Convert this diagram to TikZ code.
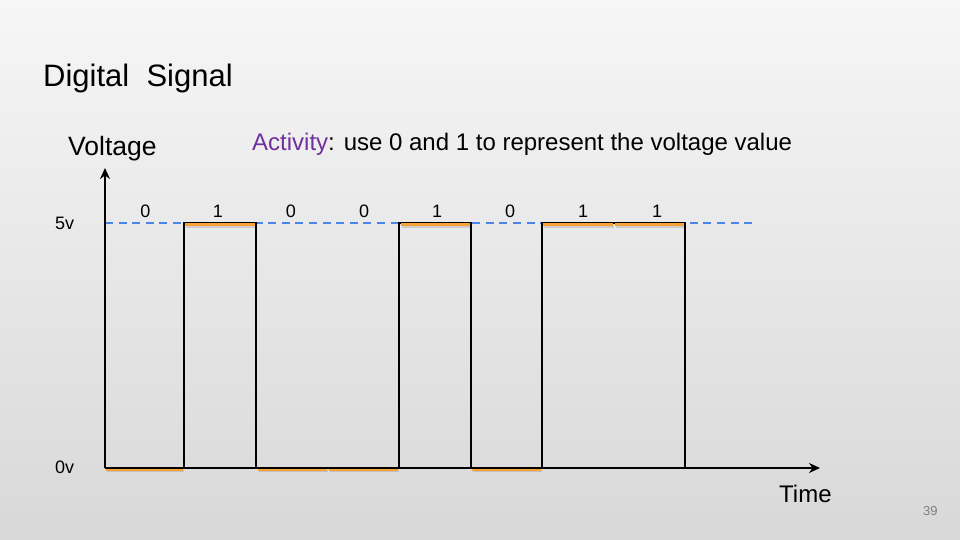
\documentclass[tikz,border=0pt]{standalone}
\usepackage{fontspec}
\setmainfont{Liberation Sans}
\usetikzlibrary{arrows.meta}
\definecolor{bgtop}{RGB}{246,246,246}
\definecolor{bgbot}{RGB}{216,216,216}
\definecolor{orng}{RGB}{248,162,56}
\definecolor{dblue}{RGB}{74,134,232}
\definecolor{purp}{RGB}{112,48,160}
\definecolor{pgnum}{RGB}{128,128,128}
\newcommand\setfs[1]{\fontsize{#1}{#1}\selectfont}
\begin{document}
\begin{tikzpicture}[x=1pt,y=-1pt,
  txt/.style={inner sep=0pt,anchor=base west},
  bitlab/.style={inner sep=0pt,anchor=base,font=\setfs{18}},
  sig/.style={line width=1.8pt,black,line join=miter},
  axis/.style={line width=1.8pt,black,-{Stealth[length=11pt,width=10pt]}},
  level/.style={line width=2pt,dblue,dash pattern=on 8pt off 5.6pt},
  bitline/.style={line width=3.4pt,orng},
  bitshadow/.style={line width=2pt,black,opacity=0.12}]
\shade[top color=bgtop,bottom color=bgbot] (0,0) rectangle (960,540);
\useasboundingbox (0,0) rectangle (960,540);

% texts
\node[txt,font=\setfs{31}] (title) at (43,87) {Digital~~Signal};
\node[txt,font=\setfs{26.5}] (ylab) at (68,156) {Voltage};
\node[txt,font=\setfs{24}] (act) at (252,151) {\textcolor{purp}{Activity}: use 0 and 1 to represent the voltage value};
\node[txt,font=\setfs{24}] (xlab) at (779,502) {Time};
\node[txt,font=\setfs{13},text=pgnum] (pg) at (923,515) {39};
\node[txt,font=\setfs{18}] (v5) at (55,229) {5v};
\node[txt,font=\setfs{18}] (v0) at (55,473) {0v};

% bit labels
\foreach \x/\b [count=\i] in {145.5/0,218/1,291/0,364/0,437/1,510/0,583/1,657/1}
  \node[bitlab] (bit\i) at (\x,217) {\b};

% axes coordinates
\coordinate (O) at (105,468);
\coordinate (ytip) at (105,168);
\coordinate (xtip) at (820,468);
\coordinate (lvlS) at (105,223);
\coordinate (lvlE) at (757,223);

% 5v level
\draw[level] (lvlS) -- (lvlE);

% signal
\draw[sig] (105,468) -- (184,468) -- (184,223) -- (256,223) -- (256,468)
  -- (399,468) -- (399,223) -- (471,223) -- (471,468) -- (542,468)
  -- (542,223) -- (685,223) -- (685,468);

% orange bit marks
\foreach \a/\b in {185/255,401/470,543/613,615/684}{
  \draw[bitshadow] (\a+1,226.8) -- (\b+1,226.8);
  \draw[bitline] (\a,224.6) -- (\b,224.6);}
\foreach \a/\b in {106/183,258/327,329/398,472/541}{
  \draw[bitshadow] (\a+1,471.2) -- (\b+1,471.2);
  \draw[bitline] (\a,469.3) -- (\b,469.3);}

% axes
\draw[axis] (O) -- (ytip);
\draw[axis] (O) -- (xtip);
\end{tikzpicture}
\end{document}
